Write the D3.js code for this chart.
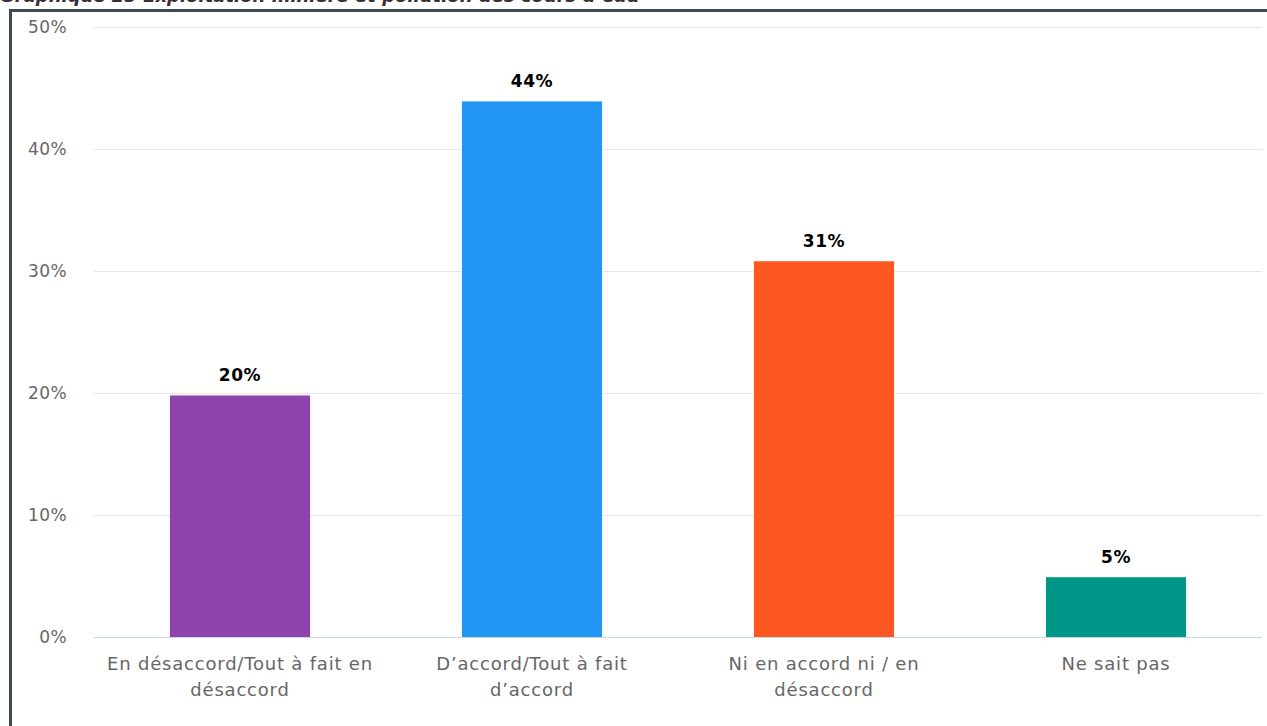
<!DOCTYPE html>
<html lang="fr">
<head>
<meta charset="UTF-8">
<title>Graphique 25</title>
<script src="https://cdn.jsdelivr.net/npm/d3@7"></script>
<style>
  body { margin: 0; background: #fff; }
  svg { display: block; font-family: "DejaVu Sans", sans-serif; }
</style>
</head>
<body>
<div id="chart"></div>
<script>
const categories = [
  ["En désaccord/Tout à fait en", "désaccord"],
  ["D’accord/Tout à fait", "d’accord"],
  ["Ni en accord ni / en", "désaccord"],
  ["Ne sait pas"]
]
const values = [19.8, 43.9, 30.8, 4.9]
const colors = ['#8e44ad', '#2196f3', '#ff5722', '#009688']
const yTicks = [0, 10, 20, 30, 40, 50]
const title = "Graphique 25 Exploitation minière et pollution des cours d’eau"

const width = 1267
const height = 726
const margin = { top: 27, right: 5, bottom: 89, left: 94 }

const svg = d3.select('#chart').append('svg')
  .attr('width', width)
  .attr('height', height)

// title, cut off by the top of the page as in the source
svg.append('text')
  .attr('x', 0)
  .attr('y', 2)
  .style('font-size', '18px')
  .style('font-style', 'italic')
  .style('font-weight', 'bold')
  .attr('fill', '#3a2e33')
  .text(title)

// frame
svg.append('path')
  .attr('d', `M10.5,${height} V10.5 H${width}`)
  .attr('fill', 'none')
  .attr('stroke', '#3d4b52')
  .attr('stroke-width', 3)

const x = d3.scaleBand()
  .domain(d3.range(categories.length))
  .range([margin.left, width - margin.right])
  .paddingInner(0.52)
  .paddingOuter(0.26)

const y = d3.scaleLinear()
  .domain([0, 50])
  .range([height - margin.bottom, margin.top])

// grid
svg.append('g')
  .selectAll('line')
  .data(yTicks.filter(d => d > 0))
  .join('line')
  .attr('x1', margin.left)
  .attr('x2', width - margin.right)
  .attr('y1', d => Math.round(y(d)) + 0.5)
  .attr('y2', d => Math.round(y(d)) + 0.5)
  .attr('stroke', '#e6e6e6')

// y labels
svg.append('g')
  .selectAll('text')
  .data(yTicks)
  .join('text')
  .attr('x', 67)
  .attr('y', d => y(d) + 6)
  .attr('text-anchor', 'end')
  .style('font-size', '17px')
  .style('letter-spacing', '0.4px')
  .attr('fill', '#666')
  .text(d => d + '%')

// bars
svg.append('g')
  .selectAll('rect')
  .data(values)
  .join('rect')
  .attr('x', (d, i) => x(i))
  .attr('width', x.bandwidth())
  .attr('y', d => y(d))
  .attr('height', d => y(0) - y(d))
  .attr('fill', (d, i) => colors[i])

// baseline
svg.append('line')
  .attr('x1', margin.left)
  .attr('x2', width - margin.right)
  .attr('y1', Math.round(y(0)) + 0.5)
  .attr('y2', Math.round(y(0)) + 0.5)
  .attr('stroke', '#ccd6eb')

// value labels
svg.append('g')
  .selectAll('text')
  .data(values)
  .join('text')
  .attr('x', (d, i) => x(i) + x.bandwidth() / 2)
  .attr('y', d => y(d) - 14)
  .attr('text-anchor', 'middle')
  .style('font-size', '17px')
  .style('font-weight', 'bold')
  .style('letter-spacing', '0.6px')
  .attr('fill', '#000')
  .text(d => d3.format('.0f')(d) + '%')

// x labels
const xl = svg.append('g')
  .selectAll('text')
  .data(categories)
  .join('text')
  .attr('x', (d, i) => x(i) + x.bandwidth() / 2)
  .attr('y', height - margin.bottom + 33)
  .attr('text-anchor', 'middle')
  .style('font-size', '18px')
  .style('letter-spacing', '0.8px')
  .attr('fill', '#666')

xl.selectAll('tspan')
  .data(d => d)
  .join('tspan')
  .attr('x', function () { return this.parentNode.getAttribute('x') })
  .attr('dy', (d, i) => i === 0 ? 0 : 26)
  .text(d => d)
</script>
</body>
</html>
